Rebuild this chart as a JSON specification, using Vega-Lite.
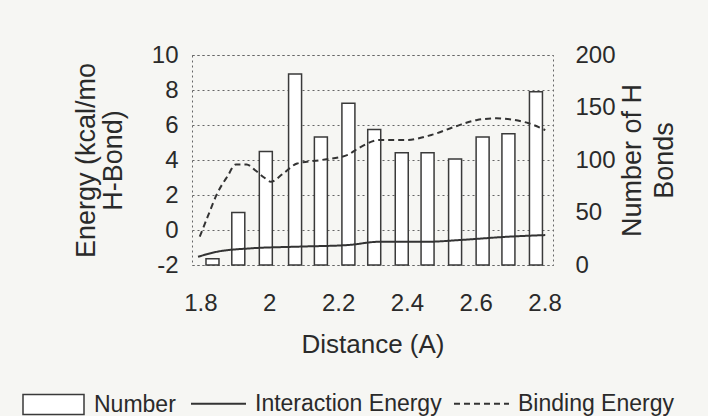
{
  "$schema": "https://vega.github.io/schema/vega-lite/v6.json",
  "width": 361,
  "height": 210,
  "autosize": {"type": "none"},
  "padding": {"left": 192, "top": 55, "right": 155, "bottom": 151},
  "background": "#f6f6f3",
  "config": {
    "font": "Liberation Sans",
    "view": {"stroke": "#666666", "strokeDash": [2, 3], "strokeWidth": 1},
    "axis": {
      "labelFont": "Liberation Sans",
      "titleFont": "Liberation Sans",
      "labelColor": "#2a2a2a",
      "titleColor": "#2a2a2a",
      "titleFontWeight": "normal",
      "domain": false,
      "ticks": false,
      "tickSize": 0
    },
    "legend": {
      "labelFont": "Liberation Sans",
      "labelColor": "#2a2a2a"
    }
  },
  "datasets": {
    "bonds": [
      {"distance": 1.835, "count": 6},
      {"distance": 1.91, "count": 50},
      {"distance": 1.99, "count": 108},
      {"distance": 2.075, "count": 182},
      {"distance": 2.15, "count": 122},
      {"distance": 2.23, "count": 154},
      {"distance": 2.305, "count": 129},
      {"distance": 2.385, "count": 107},
      {"distance": 2.46, "count": 107},
      {"distance": 2.54, "count": 101},
      {"distance": 2.62, "count": 122},
      {"distance": 2.695, "count": 125},
      {"distance": 2.775, "count": 165}
    ],
    "energy": [
      {"series": "Binding Energy", "distance": 1.798, "energy": -0.38},
      {"series": "Binding Energy", "distance": 1.821, "energy": 0.76},
      {"series": "Binding Energy", "distance": 1.849, "energy": 2.1},
      {"series": "Binding Energy", "distance": 1.878, "energy": 3.05},
      {"series": "Binding Energy", "distance": 1.903, "energy": 3.75},
      {"series": "Binding Energy", "distance": 1.934, "energy": 3.75},
      {"series": "Binding Energy", "distance": 1.96, "energy": 3.4},
      {"series": "Binding Energy", "distance": 1.985, "energy": 3.0},
      {"series": "Binding Energy", "distance": 2.005, "energy": 2.76},
      {"series": "Binding Energy", "distance": 2.039, "energy": 3.2},
      {"series": "Binding Energy", "distance": 2.081, "energy": 3.8},
      {"series": "Binding Energy", "distance": 2.152, "energy": 4.0},
      {"series": "Binding Energy", "distance": 2.228, "energy": 4.29},
      {"series": "Binding Energy", "distance": 2.259, "energy": 4.67},
      {"series": "Binding Energy", "distance": 2.321, "energy": 5.14},
      {"series": "Binding Energy", "distance": 2.398, "energy": 5.14},
      {"series": "Binding Energy", "distance": 2.471, "energy": 5.43},
      {"series": "Binding Energy", "distance": 2.539, "energy": 5.9},
      {"series": "Binding Energy", "distance": 2.604, "energy": 6.29},
      {"series": "Binding Energy", "distance": 2.66, "energy": 6.38},
      {"series": "Binding Energy", "distance": 2.737, "energy": 6.19},
      {"series": "Binding Energy", "distance": 2.754, "energy": 6.1},
      {"series": "Binding Energy", "distance": 2.802, "energy": 5.71},
      {"series": "Interaction Energy", "distance": 1.793, "energy": -1.53},
      {"series": "Interaction Energy", "distance": 1.849, "energy": -1.24},
      {"series": "Interaction Energy", "distance": 1.945, "energy": -1.05},
      {"series": "Interaction Energy", "distance": 2.087, "energy": -0.95},
      {"series": "Interaction Energy", "distance": 2.228, "energy": -0.86},
      {"series": "Interaction Energy", "distance": 2.321, "energy": -0.67},
      {"series": "Interaction Energy", "distance": 2.462, "energy": -0.67},
      {"series": "Interaction Energy", "distance": 2.556, "energy": -0.57},
      {"series": "Interaction Energy", "distance": 2.697, "energy": -0.38},
      {"series": "Interaction Energy", "distance": 2.802, "energy": -0.29}
    ]
  },
  "layer": [
    {
      "data": {"name": "bonds"},
      "mark": {"type": "bar", "size": 13, "stroke": "#3a3a3a", "strokeWidth": 1.5},
      "encoding": {
        "x": {
          "field": "distance",
          "type": "quantitative",
          "scale": {"domain": [1.79, 2.81], "nice": false, "zero": false},
          "axis": {
            "values": [1.8, 2, 2.2, 2.4, 2.6, 2.8],
            "format": "~g",
            "labelFontSize": 24,
            "labelPadding": 26,
            "grid": false,
            "title": "Distance (A)",
            "titleFontSize": 26,
            "titleY": 66,
            "titleBaseline": "top"
          }
        },
        "y": {
          "field": "count",
          "type": "quantitative",
          "scale": {"domain": [0, 200], "nice": false},
          "axis": {
            "orient": "right",
            "values": [0, 50, 100, 150, 200],
            "labelFontSize": 24,
            "labelPadding": 22,
            "grid": false,
            "title": ["Number of H", "Bonds"],
            "titleFontSize": 27,
            "titleAngle": 270,
            "titleX": 79,
            "titleY": 105,
            "titleAlign": "center",
            "titleBaseline": "middle",
            "titleLineHeight": 32
          }
        },
        "fill": {
          "datum": "Number",
          "type": "nominal",
          "scale": {"range": ["white"]},
          "legend": {
            "orient": "none",
            "legendX": -170,
            "legendY": 318,
            "title": null,
            "symbolType": "M-1,-0.33H1V0.33H-1Z",
            "symbolSize": 3721,
            "symbolStrokeColor": "#3a3a3a",
            "symbolStrokeWidth": 1.5,
            "labelFontSize": 23,
            "labelOffset": 9,
            "labelLimit": 300
          }
        }
      }
    },
    {
      "data": {"name": "energy"},
      "mark": {"type": "line", "interpolate": "monotone", "stroke": "#333333", "strokeWidth": 2},
      "encoding": {
        "x": {"field": "distance", "type": "quantitative"},
        "y": {
          "field": "energy",
          "type": "quantitative",
          "scale": {"domain": [-2, 10], "nice": false},
          "axis": {
            "orient": "left",
            "values": [-2, 0, 2, 4, 6, 8, 10],
            "labelExpr": "'' + datum.value",
            "labelFontSize": 24,
            "labelPadding": 14,
            "grid": true,
            "gridDash": [2, 3],
            "gridColor": "#666666",
            "title": ["Energy (kcal/mo", "H-Bond)"],
            "titleFontSize": 27,
            "titleAngle": 270,
            "titleX": -106,
            "titleY": 105,
            "titleAlign": "center",
            "titleBaseline": "middle",
            "titleLineHeight": 27
          }
        },
        "strokeDash": {
          "field": "series",
          "type": "nominal",
          "scale": {"domain": ["Interaction Energy", "Binding Energy"], "range": [[1, 0], [6, 4]]},
          "legend": {
            "orient": "none",
            "legendX": -2,
            "legendY": 320,
            "direction": "horizontal",
            "columns": 2,
            "title": null,
            "symbolType": "stroke",
            "symbolSize": 3025,
            "symbolStrokeColor": "#333333",
            "symbolStrokeWidth": 2,
            "labelFontSize": 23,
            "labelOffset": 8,
            "columnPadding": 8,
            "labelLimit": 300
          }
        }
      }
    }
  ],
  "resolve": {"scale": {"y": "independent"}}
}
